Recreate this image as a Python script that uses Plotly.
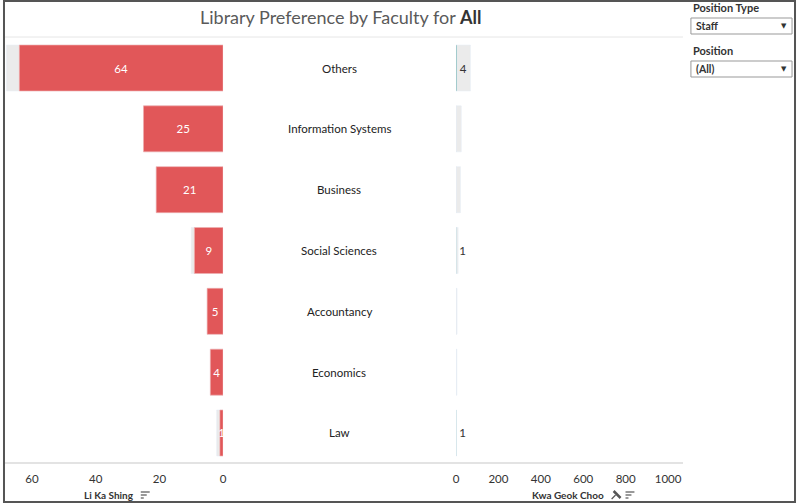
import plotly.graph_objects as go

# ---------------- data ----------------
faculties = ["Others", "Information Systems", "Business", "Social Sciences",
             "Accountancy", "Economics", "Law"]
li_ka_shing = [64, 25, 21, 9, 5, 4, 1]
kwa_geok_choo = [4, 0, 0, 1, 0, 0, 1]
totals = [68, 25, 21, 10, 5, 4, 2]
left_ticks = [0, 20, 40, 60]
right_ticks = [0, 200, 400, 600, 800, 1000]

W, H = 800, 503
def px(x):
    return x / W
def py(y):
    return 1 - y / H

FONT = "Lato"
RED = "#E15759"
TEAL = "#4E9F99"
GREY = "#EBEBEB"
TXT = "#333333"
BW = 0.756

fig = go.Figure()

# left panel (Li Ka Shing)
fig.add_trace(go.Bar(x=totals, y=faculties, orientation="h", marker_color=GREY,
                     width=BW, xaxis="x", yaxis="y", hoverinfo="skip", showlegend=False))
fig.add_trace(go.Bar(x=li_ka_shing, y=faculties, orientation="h", marker_color=RED,
                     marker_line=dict(color="#F3B5B6", width=0.6),
                     width=BW, xaxis="x", yaxis="y",
                     text=[str(v) for v in li_ka_shing], textposition="inside",
                     insidetextanchor="middle", constraintext="none",
                     insidetextfont=dict(color="white", size=11.5, family=FONT),
                     showlegend=False, name="Li Ka Shing"))

# right panel (Kwa Geok Choo)
fig.add_trace(go.Bar(x=totals, y=faculties, orientation="h", marker_color=GREY,
                     width=BW, xaxis="x2", yaxis="y", hoverinfo="skip", showlegend=False))
fig.add_trace(go.Bar(x=kwa_geok_choo, y=faculties, orientation="h", marker_color=TEAL,
                     width=BW, xaxis="x2", yaxis="y",
                     text=[str(v) if v else "" for v in kwa_geok_choo],
                     textposition="outside", cliponaxis=False, constraintext="none",
                     outsidetextfont=dict(color=TXT, size=11.5, family=FONT),
                     showlegend=False, name="Kwa Geok Choo"))

annotations = []
# category labels in the centre column
for f in faculties:
    annotations.append(dict(x=px(339), xref="paper", y=f, yref="y", text=f,
                            showarrow=False, xanchor="center", yanchor="middle",
                            font=dict(size=11.5, color="#222222", family=FONT)))

# title
annotations.append(dict(x=px(340), y=py(17), xref="paper", yref="paper",
                        text="Library Preference by Faculty for <b><span style='color:#333'>All</span></b>",
                        showarrow=False, xanchor="center", yanchor="middle",
                        font=dict(size=18, color="#5a5a5a", family=FONT)))

# axis titles
annotations.append(dict(x=px(80), y=py(495), xref="paper", yref="paper",
                        text="<b>Li Ka Shing</b>", showarrow=False,
                        xanchor="left", yanchor="middle",
                        font=dict(size=10, color=TXT, family=FONT)))
annotations.append(dict(x=px(532), y=py(495), xref="paper", yref="paper",
                        text="<b>Kwa Geok Choo</b>", showarrow=False,
                        xanchor="left", yanchor="middle",
                        font=dict(size=10, color=TXT, family=FONT)))

# filter panel
annotations.append(dict(x=px(694), y=py(8), xref="paper", yref="paper",
                        text="<b>Position Type</b>", showarrow=False,
                        xanchor="left", yanchor="middle",
                        font=dict(size=11, color=TXT, family=FONT)))
annotations.append(dict(x=px(697), y=py(26), xref="paper", yref="paper",
                        text="<b>Staff</b>", showarrow=False, xanchor="left", yanchor="middle",
                        font=dict(size=10.5, color=TXT, family=FONT)))
annotations.append(dict(x=px(788), y=py(26), xref="paper", yref="paper",
                        text="▼", showarrow=False, xanchor="center", yanchor="middle",
                        font=dict(size=7, color=TXT, family="DejaVu Sans")))
annotations.append(dict(x=px(694), y=py(50), xref="paper", yref="paper",
                        text="<b>Position</b>", showarrow=False,
                        xanchor="left", yanchor="middle",
                        font=dict(size=11, color=TXT, family=FONT)))
annotations.append(dict(x=px(697), y=py(69), xref="paper", yref="paper",
                        text="<b>(All)</b>", showarrow=False, xanchor="left", yanchor="middle",
                        font=dict(size=10.5, color=TXT, family=FONT)))
annotations.append(dict(x=px(788), y=py(69), xref="paper", yref="paper",
                        text="▼", showarrow=False, xanchor="center", yanchor="middle",
                        font=dict(size=7, color=TXT, family="DejaVu Sans")))

def pline(x0, y0, x1, y1, color, width=1):
    return dict(type="line", xref="paper", yref="paper",
                x0=px(x0), y0=py(y0), x1=px(x1), y1=py(y1),
                line=dict(color=color, width=width))

shapes = [
    pline(0, 37, 686, 37, "#E6E6E6", 1),      # title separator
    pline(0, 463, 686, 463, "#E3E3E3", 2),    # bottom axis line
    dict(type="rect", xref="paper", yref="paper", x0=px(694), x1=px(796),
         y0=py(18), y1=py(34), line=dict(color="#999999", width=1), fillcolor="white"),
    dict(type="rect", xref="paper", yref="paper", x0=px(694), x1=px(796),
         y0=py(61), y1=py(77), line=dict(color="#999999", width=1), fillcolor="white"),
    # sort icon Li Ka Shing
    pline(139, 492, 148, 492, "#555555", 1.2),
    pline(139, 495, 145, 495, "#555555", 1.2),
    pline(139, 498, 142, 498, "#555555", 1.2),
    # pin icon
    pline(614, 499, 618, 495, "#555555", 1.2),
    pline(616, 491, 623, 498, "#555555", 2.5),
    # sort icon Kwa Geok Choo
    pline(628, 492, 637, 492, "#555555", 1.2),
    pline(628, 495, 634, 495, "#555555", 1.2),
    pline(628, 498, 631, 498, "#555555", 1.2),
    # outer border
    dict(type="rect", xref="paper", yref="paper", x0=px(1), x1=px(799),
         y0=py(1), y1=py(502), line=dict(color="#555555", width=2)),
]

fig.update_layout(
    width=W, height=H,
    margin=dict(l=0, r=0, t=0, b=0),
    paper_bgcolor="white", plot_bgcolor="white",
    barmode="overlay",
    font=dict(family=FONT, color=TXT),
    xaxis=dict(domain=[px(2), px(222)], range=[68.5, 0], tickvals=left_ticks,
               showgrid=False, zeroline=False, showline=False, ticks="",
               ticklabelstandoff=7, tickfont=dict(size=11.5, color=TXT, family=FONT),
               anchor="y", fixedrange=True),
    xaxis2=dict(domain=[px(457), px(687)], range=[0, 1075], tickvals=right_ticks,
                showgrid=False, zeroline=False, showline=False, ticks="",
                ticklabelstandoff=7, tickfont=dict(size=11.5, color=TXT, family=FONT),
                anchor="y", fixedrange=True),
    yaxis=dict(domain=[1 - 463.4 / H, 1 - 37.6 / H], categoryorder="array",
               categoryarray=faculties, autorange="reversed",
               showticklabels=False, showgrid=False, zeroline=False, ticks="",
               fixedrange=True),
    annotations=annotations,
    shapes=shapes,
)

fig.write_html("out.html")
